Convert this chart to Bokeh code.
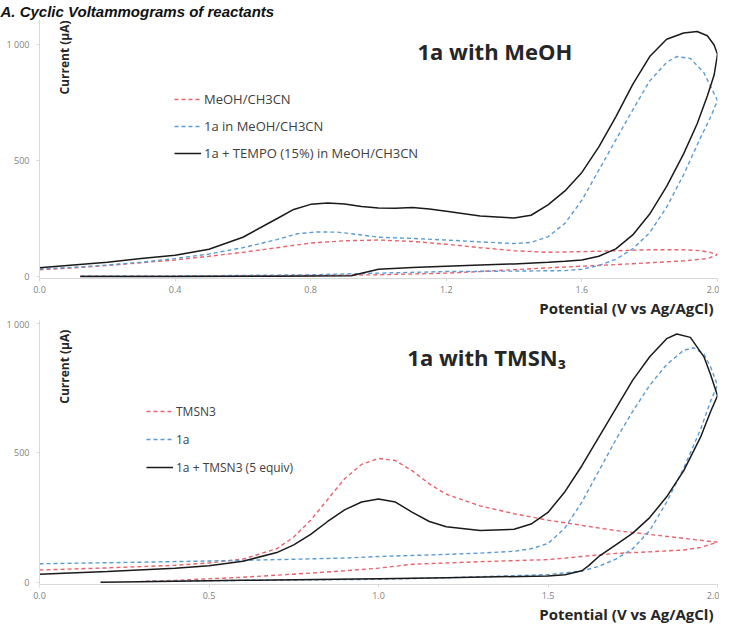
import math
from bokeh.plotting import figure
from bokeh.models import Label, Legend, LegendItem, FixedTicker, Range1d, Title
from bokeh.layouts import column
from bokeh.embed import file_html
from bokeh.resources import INLINE

# ---------------- data ----------------
# Top panel: 1a with MeOH
top_red_V = [0.0, 0.1, 0.2, 0.3, 0.4, 0.5, 0.6, 0.7, 0.8, 0.9, 1.0, 1.1, 1.2, 1.3, 1.4, 1.5, 1.6, 1.7, 1.8, 1.9, 1.95, 1.98, 2.0,
             1.97, 1.9, 1.8, 1.7, 1.6, 1.5, 1.4, 1.3, 1.2, 1.0, 0.8, 0.5, 0.3, 0.12]
top_red_I = [30, 38, 48, 60, 72, 88, 105, 125, 145, 155, 158, 152, 140, 125, 112, 105, 108, 112, 116, 116, 112, 104, 95,
             78, 68, 60, 52, 45, 38, 30, 22, 15, 8, 5, 3, 2, 2]

top_blue_V = [0.0, 0.1, 0.2, 0.3, 0.4, 0.5, 0.6, 0.7, 0.76, 0.82, 0.88, 0.95, 1.0, 1.1, 1.2, 1.3, 1.4, 1.45, 1.5, 1.55, 1.6,
              1.65, 1.7, 1.75, 1.8, 1.85, 1.88, 1.92, 1.96, 2.0,
              1.98, 1.95, 1.9, 1.85, 1.8, 1.75, 1.7, 1.65, 1.6, 1.55, 1.4, 1.2, 1.0, 0.8, 0.5, 0.3, 0.12]
top_blue_I = [33, 40, 50, 62, 78, 98, 125, 160, 185, 193, 192, 180, 170, 165, 158, 150, 143, 148, 172, 230, 330,
              460, 590, 720, 845, 925, 950, 942, 880, 760,
              690, 600, 440, 300, 190, 120, 75, 48, 32, 26, 24, 22, 15, 8, 4, 3, 3]

top_black_V = [0.0, 0.1, 0.2, 0.3, 0.4, 0.5, 0.6, 0.7, 0.75, 0.8, 0.85, 0.9, 0.95, 1.0, 1.05, 1.1, 1.15, 1.2, 1.3, 1.4,
               1.45, 1.5, 1.55, 1.6, 1.65, 1.7, 1.75, 1.8, 1.85, 1.9, 1.94, 1.97, 1.99, 2.0,
               1.99, 1.97, 1.94, 1.9, 1.85, 1.8, 1.75, 1.7, 1.65, 1.6, 1.55, 1.5, 1.4, 1.3, 1.2, 1.1, 1.0, 0.95,
               0.92, 0.7, 0.4, 0.12]
top_black_I = [38, 50, 62, 78, 92, 118, 170, 250, 290, 312, 318, 314, 303, 296, 295, 298, 292, 282, 262, 253,
               265, 310, 370, 450, 560, 690, 830, 950, 1025, 1052, 1058, 1040, 1000, 960,
               870, 780, 660, 530, 390, 270, 180, 120, 88, 72, 66, 62, 55, 50, 45, 40, 32, 15,
               4, 2, 1, 1]

# Bottom panel: 1a with TMSN3
bot_red_V = [0.0, 0.2, 0.4, 0.5, 0.6, 0.7, 0.75, 0.8, 0.85, 0.9, 0.95, 1.0, 1.05, 1.1, 1.15, 1.2, 1.3, 1.4, 1.5, 1.6,
             1.7, 1.8, 1.9, 2.0,
             1.95, 1.9, 1.8, 1.7, 1.6, 1.5, 1.3, 1.1, 1.0, 0.9, 0.8, 0.6, 0.4, 0.3]
bot_red_I = [48, 56, 66, 75, 90, 130, 175, 240, 320, 400, 455, 478, 470, 430, 380, 340, 295, 265, 240, 220,
             200, 185, 170, 155,
             135, 125, 118, 112, 100, 88, 80, 70, 55, 45, 36, 20, 8, 4]

bot_blue_V = [0.0, 0.3, 0.6, 0.9, 1.0, 1.2, 1.3, 1.4, 1.45, 1.5, 1.55, 1.6, 1.65, 1.7, 1.75, 1.8, 1.85, 1.9, 1.93,
              1.96, 1.98, 2.0,
              1.98, 1.95, 1.9, 1.85, 1.8, 1.75, 1.7, 1.65, 1.6, 1.5, 1.2, 1.0, 0.6, 0.3]
bot_blue_I = [72, 78, 85, 94, 100, 108, 113, 120, 130, 150, 210, 310, 430, 550, 660, 760, 840, 895, 905,
              880, 830, 760,
              700, 590, 440, 310, 200, 130, 90, 62, 44, 30, 18, 12, 8, 4]

bot_black_V = [0.0, 0.2, 0.4, 0.5, 0.6, 0.7, 0.75, 0.8, 0.85, 0.9, 0.95, 1.0, 1.05, 1.1, 1.15, 1.2, 1.3, 1.4, 1.45,
               1.5, 1.55, 1.6, 1.65, 1.7, 1.75, 1.8, 1.85, 1.88, 1.92, 1.96, 1.98, 2.0,
               1.98, 1.95, 1.9, 1.85, 1.8, 1.75, 1.7, 1.65, 1.62, 1.6, 1.55, 1.5, 1.2, 1.0, 0.6, 0.3, 0.18]
bot_black_I = [32, 42, 55, 64, 82, 115, 145, 185, 235, 280, 310, 322, 310, 270, 235, 215, 200, 205, 225,
               270, 350, 450, 560, 670, 780, 870, 940, 958, 945, 870, 800, 720,
               660, 560, 430, 330, 250, 190, 145, 100, 65, 45, 30, 25, 18, 14, 8, 3, 1]

top_names = ["MeOH/CH3CN", "1a in MeOH/CH3CN", "1a + TEMPO (15%) in MeOH/CH3CN"]
bot_names = ["TMSN3", "1a", "1a + TMSN3 (5 equiv)"]
y_ticks = [0, 500, 1000]
y_tick_labels = {0: "0", 500: "500", 1000: "1 000"}
top_x_ticks = [0.0, 0.4, 0.8, 1.2, 1.6, 2.0]
bot_x_ticks = [0.0, 0.5, 1.0, 1.5, 2.0]

RED = "#E8636C"
BLUE = "#5B9BD5"
BLACK = "#1A1A1A"
FONT = "Open Sans"
XLABEL = "Potential (V vs Ag/AgCl)"


def make_fig(height, y_end, xticks, b_top):
    p = figure(width=719, height=height, x_range=Range1d(0, 2.0), y_range=Range1d(-8, y_end),
               output_backend="svg", toolbar_location=None,
               min_border_left=39, min_border_right=2, min_border_top=b_top, min_border_bottom=0)
    p.xgrid.visible = False
    p.ygrid.visible = False
    p.outline_line_color = None
    for ax in (p.xaxis[0], p.yaxis[0]):
        ax.axis_line_color = "#D9D9D9"
        ax.major_tick_line_color = "#D9D9D9"
        ax.minor_tick_line_color = None
        ax.major_tick_in = 0
        ax.major_tick_out = 3
        ax.major_label_text_font = FONT
        ax.major_label_text_font_size = "9px"
        ax.major_label_text_color = "#7F7F7F"
    p.xaxis.ticker = FixedTicker(ticks=xticks)
    p.xaxis.major_label_overrides = {t: f"{t:.1f}" for t in xticks}
    p.xaxis.major_label_standoff = 4
    p.yaxis.ticker = FixedTicker(ticks=y_ticks)
    p.yaxis.major_label_overrides = y_tick_labels
    p.yaxis.major_label_standoff = 7
    p.add_layout(Title(text=XLABEL, align="right", text_font=FONT, text_font_style="bold",
                       text_font_size="15px", text_color="#262626", standoff=0, offset=4), "below")
    return p


def add_series(p, names, red, blue, black, loc, spacing, fsize):
    r1 = p.line(red[0], red[1], line_color=RED, line_width=1.4, line_dash="4 3")
    r2 = p.line(blue[0], blue[1], line_color=BLUE, line_width=1.4, line_dash="4 3")
    r3 = p.line(black[0], black[1], line_color=BLACK, line_width=1.5)
    leg = Legend(items=[LegendItem(label=n, renderers=[r]) for n, r in zip(names, [r1, r2, r3])],
                 location=loc, orientation="vertical", padding=0, margin=0, spacing=spacing,
                 glyph_width=27, glyph_height=20, label_height=20, label_standoff=3,
                 label_text_font=FONT, label_text_font_size=fsize, label_text_color="#404040",
                 border_line_color=None, background_fill_alpha=0)
    p.add_layout(leg, "center")


# ---------------- top panel ----------------
p1 = make_fig(317, 1110, top_x_ticks, 0)
p1.title = Title(text="A. Cyclic Voltammograms of reactants", align="left", offset=-39,
                 text_font="Liberation Sans", text_font_style="bold italic", text_font_size="15px",
                 text_color="#111111", standoff=0)
add_series(p1, top_names, (top_red_V, top_red_I), (top_blue_V, top_blue_I), (top_black_V, top_black_I),
           (135, 115), 7, "13px")
p1.add_layout(Label(x=1.115, y=975, text="1a with MeOH", text_font=FONT, text_font_style="bold",
                    text_font_size="22px", text_baseline="middle", text_color="#262626"))
p1.add_layout(Label(x=0.073, y=946, text="Current (µA)", angle=math.pi / 2, text_font=FONT,
                    text_font_style="bold", text_font_size="12px", text_align="center",
                    text_baseline="middle", text_color="#262626"))

# ---------------- bottom panel ----------------
p2 = make_fig(306, 1010, bot_x_ticks, 3)
add_series(p2, bot_names, (bot_red_V, bot_red_I), (bot_blue_V, bot_blue_I), (bot_black_V, bot_black_I),
           (107, 107), 8, "12px")
p2.add_layout(Label(x=1.085, y=870, text="1a with TMSN₃", text_font=FONT, text_font_style="bold",
                    text_font_size="22px", text_baseline="middle", text_color="#262626"))
p2.add_layout(Label(x=0.073, y=832, text="Current (µA)", angle=math.pi / 2, text_font=FONT,
                    text_font_style="bold", text_font_size="12px", text_align="center",
                    text_baseline="middle", text_color="#262626"))

layout = column(p1, p2, spacing=0)
open("out.html", "w").write(file_html(layout, INLINE))
